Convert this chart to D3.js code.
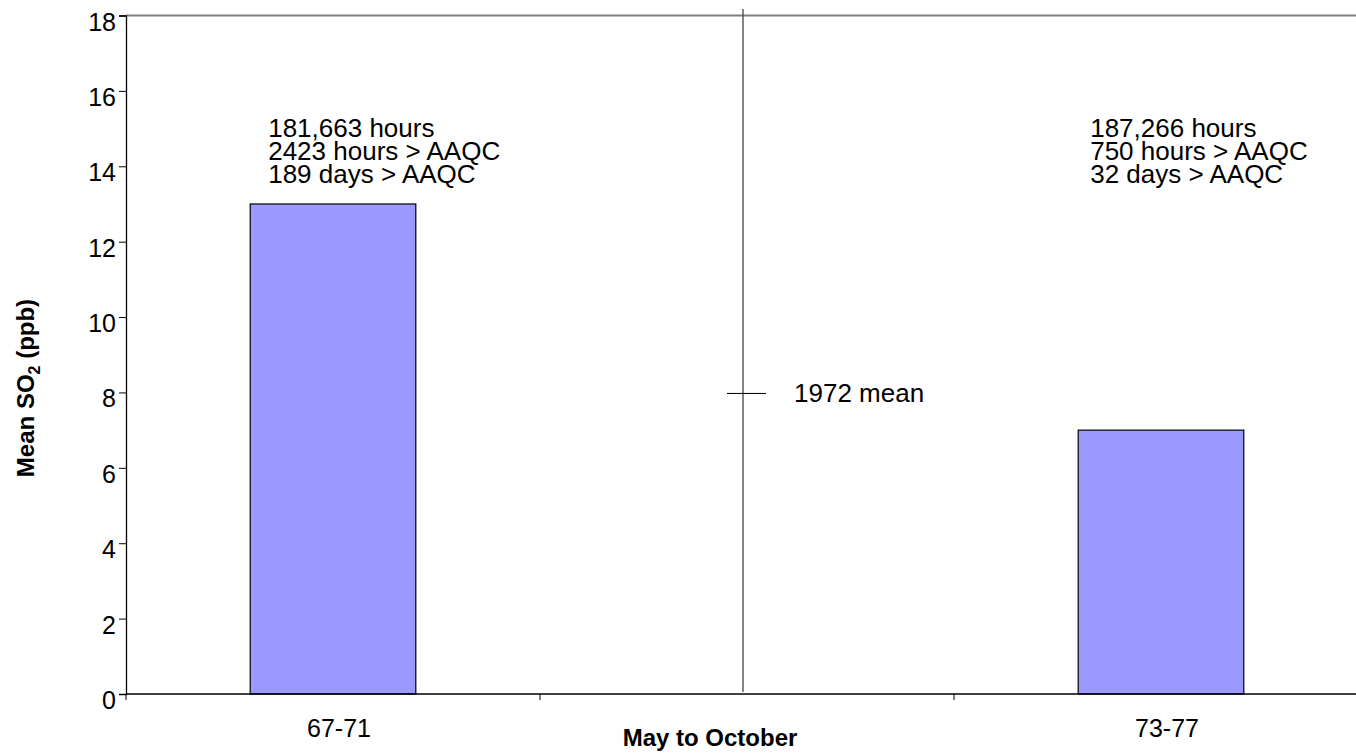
<!DOCTYPE html>
<html>
<head>
<meta charset="utf-8">
<script src="https://cdn.jsdelivr.net/npm/d3@7"></script>
<style>
  html, body { margin: 0; padding: 0; background: #fff; }
  svg { display: block; font-family: "Liberation Sans", Arial, sans-serif; }
</style>
</head>
<body>
<svg id="chart" width="1356" height="756"></svg>
<script>
// ---- data ----
const categories = ["67-71", "1972", "73-77"];
const barCategories = ["67-71", "73-77"];
const meanSO2 = [13, 7];
const mean1972 = 8;
const meanLabel = "1972 mean";
const annotations = [
  ["181,663 hours", "2423 hours > AAQC", "189 days > AAQC"],
  ["187,266 hours", "750 hours > AAQC", "32 days > AAQC"]
];
const yTicks = [0, 2, 4, 6, 8, 10, 12, 14, 16, 18];
const xTitle = "May to October";

// ---- layout ----
const svg = d3.select("#chart");
const plotLeft = 126, plotRight = 1368, plotBottom = 694, plotTop = 15.5;

const x = d3.scaleBand().domain(categories).range([plotLeft, plotRight])
  .paddingInner(0.6).paddingOuter(0.3);
const y = d3.scaleLinear().domain([0, 18]).range([plotBottom, plotTop]);
const step = x.step();

// top border
svg.append("line").attr("x1", plotLeft).attr("x2", 1356).attr("y1", plotTop).attr("y2", plotTop)
  .attr("stroke", "#808080").attr("stroke-width", 2);

// bars
svg.append("g").selectAll("rect").data(barCategories).join("rect")
  .attr("x", d => x(d))
  .attr("width", x.bandwidth())
  .attr("y", (d, i) => y(meanSO2[i]))
  .attr("height", (d, i) => y(0) - y(meanSO2[i]))
  .attr("fill", "#9999ff")
  .attr("stroke", "#000")
  .attr("stroke-width", 1.2);

// y axis
const yAxis = d3.axisLeft(y).tickValues(yTicks).tickSize(7).tickPadding(3);
const gy = svg.append("g").attr("transform", `translate(${plotLeft},0)`).call(yAxis);
gy.select(".domain").attr("stroke", "#000").attr("stroke-width", 1.3);
gy.selectAll(".tick line").attr("stroke", "#000");
gy.selectAll(".tick text").attr("font-size", 25).attr("fill", "#000")
  .attr("font-family", "'Liberation Sans', Arial, sans-serif").attr("dy", "0.58em");

// x axis
svg.append("line").attr("x1", plotLeft).attr("x2", 1356).attr("y1", plotBottom).attr("y2", plotBottom)
  .attr("stroke", "#000").attr("stroke-width", 1.5);
const tickXs = categories.map((c, i) => plotLeft + i * step);
svg.append("g").selectAll("line").data(tickXs).join("line")
  .attr("x1", d => d).attr("x2", d => d).attr("y1", plotBottom).attr("y2", plotBottom + 6)
  .attr("stroke", "#000").attr("stroke-width", 1);

svg.append("g").selectAll("text").data(barCategories).join("text")
  .attr("x", d => x(d) + x.bandwidth() / 2 + 6)
  .attr("y", 737)
  .attr("text-anchor", "middle")
  .attr("font-size", 25)
  .text(d => d);

// 1972 mean marker
const cx = x("1972") + x.bandwidth() / 2 - 4;
svg.append("line").attr("x1", cx).attr("x2", cx).attr("y1", 9).attr("y2", plotBottom - 2)
  .attr("stroke", "#444").attr("stroke-width", 1.3);
svg.append("line").attr("x1", cx - 16).attr("x2", cx + 23)
  .attr("y1", y(mean1972) + 1).attr("y2", y(mean1972) + 1)
  .attr("stroke", "#000").attr("stroke-width", 1);
svg.append("text").attr("x", cx + 51).attr("y", y(mean1972) + 10)
  .attr("font-size", 26).text(meanLabel);

// annotations
barCategories.forEach((c, i) => {
  const t = svg.append("text").attr("font-size", 26);
  annotations[i].forEach((line, j) => {
    t.append("tspan").attr("x", x(c) + (i === 0 ? 18 : 12)).attr("y", y(15) + 8 + j * 23.2).text(line);
  });
});

// axis titles
svg.append("text").attr("x", 710).attr("y", 746).attr("text-anchor", "middle")
  .attr("font-size", 24).attr("font-weight", "bold").text(xTitle);

const yt = svg.append("text")
  .attr("transform", "translate(34,388) rotate(-90)")
  .attr("text-anchor", "middle").attr("font-size", 24).attr("font-weight", "bold");
yt.append("tspan").text("Mean SO");
yt.append("tspan").attr("font-size", 16).attr("dy", 6).text("2");
yt.append("tspan").attr("dy", -6).text(" (ppb)");
</script>
</body>
</html>
